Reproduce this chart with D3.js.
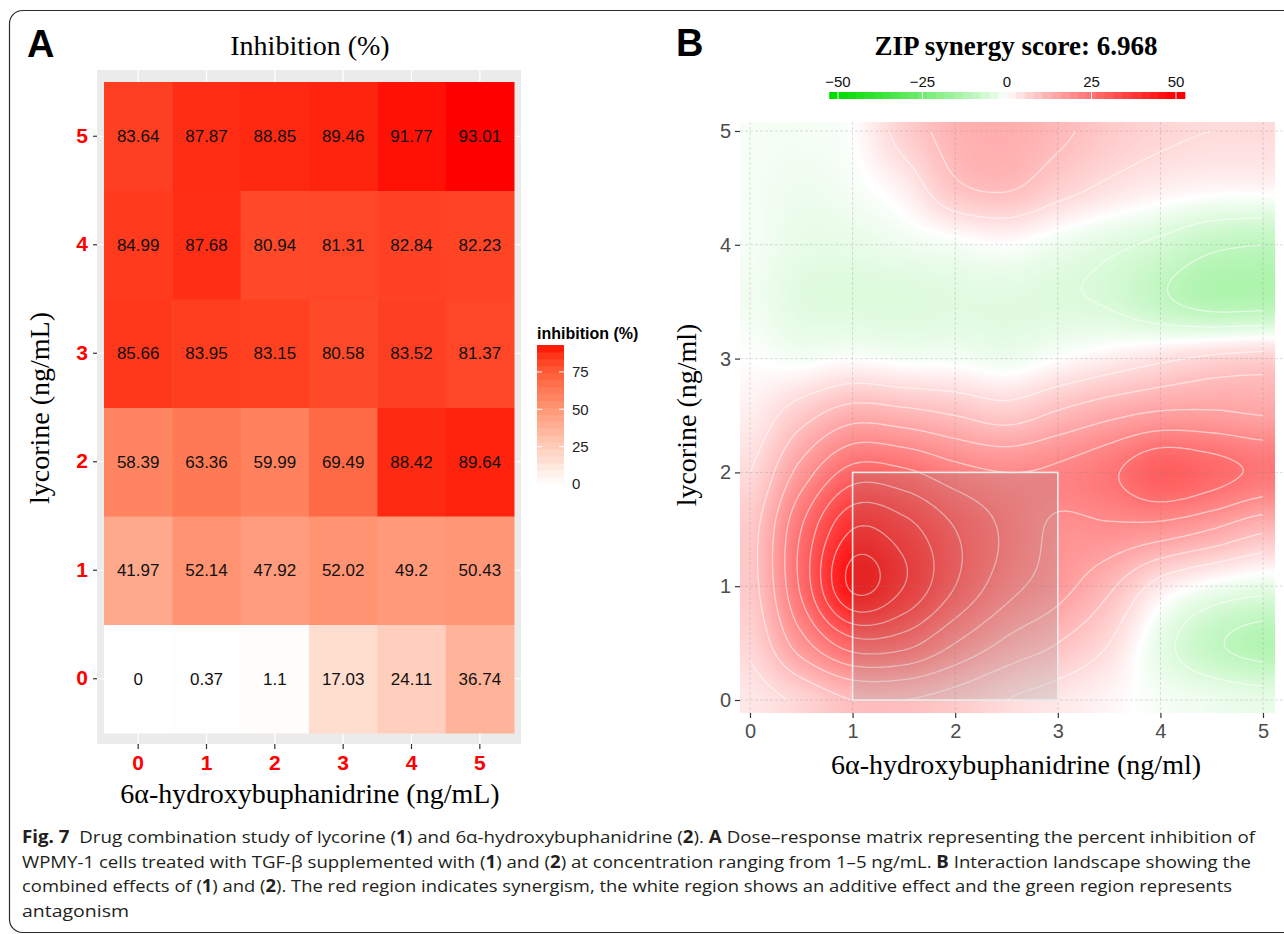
<!DOCTYPE html>
<html>
<head>
<meta charset="utf-8">
<script src="https://cdn.jsdelivr.net/npm/d3@7"></script>
<style>
  body { margin: 0; background: #fff; }
  svg { display: block; }
  .sans { font-family: "Liberation Sans", Arial, sans-serif; }
  .serif { font-family: "Liberation Serif", "Times New Roman", serif; }
</style>
</head>
<body>
<svg id="fig" width="1284" height="934"></svg>
<script>

  //////////
  // Data //
  //////////

  // panel A: dose-response matrix (rows = lycorine, cols = 6a-hydroxybuphanidrine)
  var doses = [0, 1, 2, 3, 4, 5];
  var inhibition = [
    [0, 0.37, 1.1, 17.03, 24.11, 36.74],
    [41.97, 52.14, 47.92, 52.02, 49.2, 50.43],
    [58.39, 63.36, 59.99, 69.49, 88.42, 89.64],
    [85.66, 83.95, 83.15, 80.58, 83.52, 81.37],
    [84.99, 87.68, 80.94, 81.31, 82.84, 82.23],
    [83.64, 87.87, 88.85, 89.46, 91.77, 93.01]
  ];
  var inhibitionBreaks = [0, 25, 50, 75];

  var zipScore = '6.968';
  var landscapeDoses = [0, 0.5, 1, 1.5, 2, 2.5, 3, 3.5, 4, 4.5, 5];
  var synergy = [
    [3, 6, 10, 10, 8, 5, 3, 1, -1, -2, -3],
    [6, 18, 28, 27, 20, 14, 10, 5, -3, -9, -12],
    [8, 26, 46, 40, 30, 22, 17, 11, 3, -1, -3],
    [8, 25, 40, 37, 30, 24, 19, 19, 18, 15, 11],
    [5, 17, 27, 26, 22, 20, 21, 24, 29, 27, 24],
    [2, 8, 13, 12, 10, 8, 11, 14, 16, 16, 15],
    [0, -1, 0, -1, -1, -2, 0, 2, 4, 6, 7],
    [-1.5, -4, -4.5, -4.5, -4, -4, -4.5, -5.5, -9, -12, -12],
    [-1, -3, -3, -2, -1, 0, -2, -4, -6, -9, -10],
    [-1, -2, -1, 2, 9, 10.5, 7, 4, 2, 1, 1],
    [-1, -1, 0, 7, 12, 13, 11, 8, 6, 5, 5]
  ];
  var synergyBreaks = [-50, -25, 0, 25, 50];
  var bestArea = [1, 3, 0, 2]; // x from, x to, y from, y to

  var caption = [
    [['Fig. 7', 1], ['  Drug combination study of lycorine (', 0], ['1', 1], [') and 6\u03b1-hydroxybuphanidrine (', 0], ['2', 1], ['). ', 0], ['A', 1], [' Dose\u2013response matrix representing the percent inhibition of', 0]],
    [['WPMY-1 cells treated with TGF-\u03b2 supplemented with (', 0], ['1', 1], [') and (', 0], ['2', 1], [') at concentration ranging from 1\u20135 ng/mL. ', 0], ['B', 1], [' Interaction landscape showing the', 0]],
    [['combined effects of (', 0], ['1', 1], [') and (', 0], ['2', 1], ['). The red region indicates synergism, the white region shows an additive effect and the green region represents', 0]],
    [['antagonism', 0]]
  ];

  var svg = d3.select('#fig');

  // frame round the figure
  svg.append('rect')
     .attr('x', 9.5).attr('y', 10.5)
     .attr('width', 1320).attr('height', 922)
     .attr('rx', 13)
     .attr('fill', 'none')
     .attr('stroke', '#2b2b2b')
     .attr('stroke-width', 1.2);

  /////////////
  // Panel A //
  /////////////

  var xA = d3.scaleBand().domain(doses).range([104, 514]);
  var yA = d3.scaleBand().domain(doses.slice().reverse()).range([82, 733]);
  var maxInh = d3.max(inhibition, function(r){ return d3.max(r); });
  var fillA = d3.scaleLinear().domain([0, maxInh]).range(['white', 'red']).interpolate(d3.interpolateLab);

  var gA = svg.append('g');

  gA.append('rect')
    .attr('x', 97).attr('y', 70)
    .attr('width', 424).attr('height', 674)
    .attr('fill', '#EBEBEB');

  gA.selectAll('line.vg').data(doses).enter().append('line')
    .attr('x1', function(d){ return xA(d) + xA.bandwidth()/2; })
    .attr('x2', function(d){ return xA(d) + xA.bandwidth()/2; })
    .attr('y1', 70).attr('y2', 744)
    .attr('stroke', '#fff').attr('stroke-width', 1.2);

  gA.selectAll('line.hg').data(doses).enter().append('line')
    .attr('y1', function(d){ return yA(d) + yA.bandwidth()/2; })
    .attr('y2', function(d){ return yA(d) + yA.bandwidth()/2; })
    .attr('x1', 97).attr('x2', 521)
    .attr('stroke', '#fff').attr('stroke-width', 1.2);

  var cells = [];
  inhibition.forEach(function(row, r){
    row.forEach(function(v, c){ cells.push({ r: doses[r], c: doses[c], v: v }); });
  });

  gA.selectAll('rect.tile').data(cells).enter().append('rect')
    .attr('x', function(d){ return xA(d.c); })
    .attr('y', function(d){ return yA(d.r); })
    .attr('width', xA.bandwidth() + 0.5)
    .attr('height', yA.bandwidth() + 0.5)
    .attr('fill', function(d){ return fillA(d.v); });

  gA.selectAll('text.val').data(cells).enter().append('text')
    .attr('class', 'sans')
    .attr('x', function(d){ return xA(d.c) + xA.bandwidth()/2; })
    .attr('y', function(d){ return yA(d.r) + yA.bandwidth()/2; })
    .attr('dy', '0.36em')
    .attr('text-anchor', 'middle')
    .attr('font-size', 17)
    .attr('fill', '#111')
    .text(function(d){ return d.v; });

  var axA_y = gA.append('g').attr('transform', 'translate(97,0)')
    .call(d3.axisLeft(yA).tickSize(4).tickPadding(5));
  var axA_x = gA.append('g').attr('transform', 'translate(0,744)')
    .call(d3.axisBottom(xA).tickSize(5).tickPadding(6));
  [axA_y, axA_x].forEach(function(ax){
    ax.select('.domain').remove();
    ax.selectAll('line').attr('stroke', '#333').attr('stroke-width', 1.2);
    ax.selectAll('text')
      .attr('class', 'sans')
      .attr('font-size', 21)
      .attr('font-weight', 'bold')
      .attr('fill', '#FF0000');
  });

  gA.append('text').attr('class', 'serif')
    .attr('x', 310).attr('y', 55)
    .attr('text-anchor', 'middle').attr('font-size', 28)
    .text('Inhibition (%)');

  gA.append('text').attr('class', 'serif')
    .attr('x', 310).attr('y', 803)
    .attr('text-anchor', 'middle').attr('font-size', 28)
    .text('6\u03b1-hydroxybuphanidrine (ng/mL)');

  gA.append('text').attr('class', 'serif')
    .attr('transform', 'translate(49,408) rotate(-90)')
    .attr('text-anchor', 'middle').attr('font-size', 28)
    .text('lycorine (ng/mL)');

  gA.append('text').attr('class', 'sans')
    .attr('x', 27).attr('y', 57)
    .attr('font-size', 38).attr('font-weight', 'bold')
    .text('A');

  // colour bar
  var legY = d3.scaleLinear().domain([0, maxInh]).range([484, 345]);
  var nbin = 20;
  var binsA = d3.range(nbin).map(function(i){ return maxInh * i / nbin; });
  gA.selectAll('rect.bin').data(binsA).enter().append('rect')
    .attr('x', 537).attr('width', 27)
    .attr('y', function(d){ return legY(d + maxInh / nbin); })
    .attr('height', function(d){ return legY(d) - legY(d + maxInh / nbin) + 0.5; })
    .attr('fill', function(d){ return fillA(d + maxInh / nbin / 2); });

  gA.selectAll('line.lt').data(inhibitionBreaks.slice(1)).enter().append('g')
    .each(function(d){
      var g = d3.select(this);
      g.append('line').attr('x1', 537).attr('x2', 542).attr('y1', legY(d)).attr('y2', legY(d)).attr('stroke', '#fff');
      g.append('line').attr('x1', 559).attr('x2', 564).attr('y1', legY(d)).attr('y2', legY(d)).attr('stroke', '#fff');
    });

  gA.selectAll('text.lab').data(inhibitionBreaks).enter().append('text')
    .attr('class', 'sans')
    .attr('x', 572)
    .attr('y', function(d){ return legY(d); })
    .attr('dy', '0.36em')
    .attr('font-size', 15)
    .attr('fill', '#222')
    .text(function(d){ return d; });

  gA.append('text').attr('class', 'sans')
    .attr('x', 537).attr('y', 339)
    .attr('font-size', 16).attr('font-weight', 'bold')
    .text('inhibition (%)');

  /////////////
  // Panel B //
  /////////////

  var xB = d3.scaleLinear().domain([0, 5]).range([750, 1263]);
  var yB = d3.scaleLinear().domain([0, 5]).range([700, 131]);
  var toRed = d3.interpolateRgb('#ffffff', '#FF0000');
  var toGreen = d3.interpolateRgb('#ffffff', '#00DD00');
  var strength = d3.scalePow().exponent(0.85).domain([0, 50]).range([0, 1]).clamp(true);
  function synColor(v){
    return v >= 0 ? toRed(strength(v)) : toGreen(strength(-v));
  }

  var step = landscapeDoses[1] - landscapeDoses[0];
  var nG = landscapeDoses.length;

  function cr(p0, p1, p2, p3, t){
    return p1 + 0.5 * t * (p2 - p0 + t * (2*p0 - 5*p1 + 4*p2 - p3 + t * (3*(p1 - p2) + p3 - p0)));
  }
  function at(j, i){
    j = Math.max(0, Math.min(nG - 1, j));
    i = Math.max(0, Math.min(nG - 1, i));
    return synergy[j][i];
  }
  function surface(x, y){
    var gx = Math.max(0, Math.min(nG - 1, x / step));
    var gy = Math.max(0, Math.min(nG - 1, y / step));
    var i = Math.min(nG - 2, Math.floor(gx)), j = Math.min(nG - 2, Math.floor(gy));
    var tx = gx - i, ty = gy - j;
    var rows = [-1, 0, 1, 2].map(function(k){
      return cr(at(j + k, i - 1), at(j + k, i), at(j + k, i + 1), at(j + k, i + 2), tx);
    });
    return cr(rows[0], rows[1], rows[2], rows[3], ty);
  }

  var gB = svg.append('g');

  // landscape image
  var sx0 = -0.1, sx1 = 5.12, sy0 = -0.115, sy1 = 5.08;
  var px0 = Math.round(xB(sx0)), px1 = Math.round(xB(sx1));
  var py0 = Math.round(yB(sy1)), py1 = Math.round(yB(sy0));
  var cw = px1 - px0, ch = py1 - py0;
  var canvas = document.createElement('canvas');
  canvas.width = cw; canvas.height = ch;
  var ctx = canvas.getContext('2d');
  var img = ctx.createImageData(cw, ch);
  for (var py = 0; py < ch; py++){
    for (var px = 0; px < cw; px++){
      var c = d3.rgb(synColor(surface(xB.invert(px0 + px + 0.5), yB.invert(py0 + py + 0.5))));
      var k = 4 * (py * cw + px);
      img.data[k] = c.r; img.data[k+1] = c.g; img.data[k+2] = c.b; img.data[k+3] = 255;
    }
  }
  ctx.putImageData(img, 0, 0);
  gB.append('image')
    .attr('x', px0).attr('y', py0)
    .attr('width', cw).attr('height', ch)
    .attr('preserveAspectRatio', 'none')
    .attr('href', canvas.toDataURL());

  // contour lines
  var cs = 0.025, cStart = -0.05, cn = Math.round((5 - 2*cStart) / cs) + 1;
  var grid = new Array(cn * cn);
  for (var j = 0; j < cn; j++){
    for (var i = 0; i < cn; i++){
      grid[j * cn + i] = surface(cStart + i * cs, cStart + j * cs);
    }
  }
  var levels = d3.range(-45, 50, 5).filter(function(l){ return l !== 0; });
  var rings = d3.contours().size([cn, cn]).thresholds(levels)(grid);
  var proj = d3.geoTransform({
    point: function(cx, cy){
      this.stream.point(xB(cStart + (cx - 0.5) * cs), yB(cStart + (cy - 0.5) * cs));
    }
  });

  svg.append('clipPath').attr('id', 'clipB').append('rect')
    .attr('x', xB(0)).attr('y', yB(5))
    .attr('width', xB(5) - xB(0)).attr('height', yB(0) - yB(5));

  gB.append('g').attr('clip-path', 'url(#clipB)')
    .selectAll('path').data(rings).enter().append('path')
    .attr('d', d3.geoPath(proj))
    .attr('fill', 'none')
    .attr('stroke', '#fff')
    .attr('stroke-opacity', 0.55)
    .attr('stroke-width', 1.3);

  // most synergistic area (shade first, outline after the grid)
  var areaX = xB(bestArea[0]), areaY = yB(bestArea[3]);
  var areaW = xB(bestArea[1]) - xB(bestArea[0]), areaH = yB(bestArea[2]) - yB(bestArea[3]);
  gB.append('rect')
    .attr('x', areaX).attr('y', areaY)
    .attr('width', areaW).attr('height', areaH)
    .attr('fill', '#7f7f7f').attr('fill-opacity', 0.2);

  // dashed grid
  var ticksB = xB.ticks(5);
  gB.selectAll('line.gx').data(ticksB).enter().append('line')
    .attr('x1', function(d){ return xB(d); }).attr('x2', function(d){ return xB(d); })
    .attr('y1', 122).attr('y2', 713)
    .attr('stroke', '#8a8a8a').attr('stroke-opacity', 0.4)
    .attr('stroke-width', 0.7).attr('stroke-dasharray', '3,2');
  gB.selectAll('line.gy').data(ticksB).enter().append('line')
    .attr('y1', function(d){ return yB(d); }).attr('y2', function(d){ return yB(d); })
    .attr('x1', 740).attr('x2', 1284)
    .attr('stroke', '#8a8a8a').attr('stroke-opacity', 0.4)
    .attr('stroke-width', 0.7).attr('stroke-dasharray', '3,2');

  gB.append('rect')
    .attr('x', areaX).attr('y', areaY)
    .attr('width', areaW).attr('height', areaH)
    .attr('fill', 'none')
    .attr('stroke', '#ececec').attr('stroke-width', 1.6);

  var axB_y = gB.append('g').attr('transform', 'translate(740,0)')
    .call(d3.axisLeft(yB).ticks(5).tickSize(5).tickPadding(4));
  var axB_x = gB.append('g').attr('transform', 'translate(0,713)')
    .call(d3.axisBottom(xB).ticks(5).tickSize(5).tickPadding(6));
  [axB_y, axB_x].forEach(function(ax){
    ax.select('.domain').remove();
    ax.selectAll('line').attr('stroke', '#333').attr('stroke-width', 1.2);
    ax.selectAll('text')
      .attr('class', 'sans')
      .attr('font-size', 20)
      .attr('fill', '#4d4d4d');
  });

  gB.append('text').attr('class', 'serif')
    .attr('x', 1016).attr('y', 55)
    .attr('text-anchor', 'middle').attr('font-size', 27).attr('font-weight', 'bold')
    .text('ZIP synergy score: ' + zipScore);

  gB.append('text').attr('class', 'serif')
    .attr('x', 1016).attr('y', 774)
    .attr('text-anchor', 'middle').attr('font-size', 28)
    .text('6\u03b1-hydroxybuphanidrine (ng/ml)');

  gB.append('text').attr('class', 'serif')
    .attr('transform', 'translate(696,415) rotate(-90)')
    .attr('text-anchor', 'middle').attr('font-size', 28)
    .text('lycorine (ng/ml)');

  gB.append('text').attr('class', 'sans')
    .attr('x', 676).attr('y', 56)
    .attr('font-size', 38).attr('font-weight', 'bold')
    .text('B');

  // horizontal colour bar
  var legX = d3.scaleLinear().domain([-50, 50]).range([838, 1176]);
  var binsB = d3.range(-52.6, 52.6, 105.2 / 40);
  gB.selectAll('rect.bb').data(binsB).enter().append('rect')
    .attr('x', function(d){ return legX(d); })
    .attr('width', legX(105.2 / 40) - legX(0) + 0.5)
    .attr('y', 92).attr('height', 7)
    .attr('fill', function(d){ return synColor(d + 105.2 / 80); });
  gB.selectAll('line.bt').data(synergyBreaks).enter().append('line')
    .attr('x1', function(d){ return legX(d); }).attr('x2', function(d){ return legX(d); })
    .attr('y1', 92).attr('y2', 99)
    .attr('stroke', '#fff').attr('stroke-width', 1);
  gB.selectAll('text.bl').data(synergyBreaks).enter().append('text')
    .attr('class', 'sans')
    .attr('x', function(d){ return legX(d); })
    .attr('y', 87)
    .attr('text-anchor', 'middle')
    .attr('font-size', 15)
    .attr('fill', '#111')
    .text(function(d){ return d < 0 ? '\u2212' + (-d) : d; });

  /////////////
  // Caption //
  /////////////

  var capEnds = [1255, 1251, 1232, 129];
  caption.forEach(function(line, li){
    var t = svg.append('text')
      .attr('x', 22).attr('y', 843 + li * 24.5)
      .attr('font-family', '"Open Sans", "Noto Sans", sans-serif')
      .attr('font-size', 17)
      .attr('fill', '#231f20')
      .attr('textLength', capEnds[li] - 22)
      .attr('lengthAdjust', 'spacingAndGlyphs')
      .style('white-space', 'pre');
    line.forEach(function(seg){
      t.append('tspan')
        .attr('font-weight', seg[1] ? 'bold' : 'normal')
        .text(seg[0]);
    });
  });

</script>
</body>
</html>
